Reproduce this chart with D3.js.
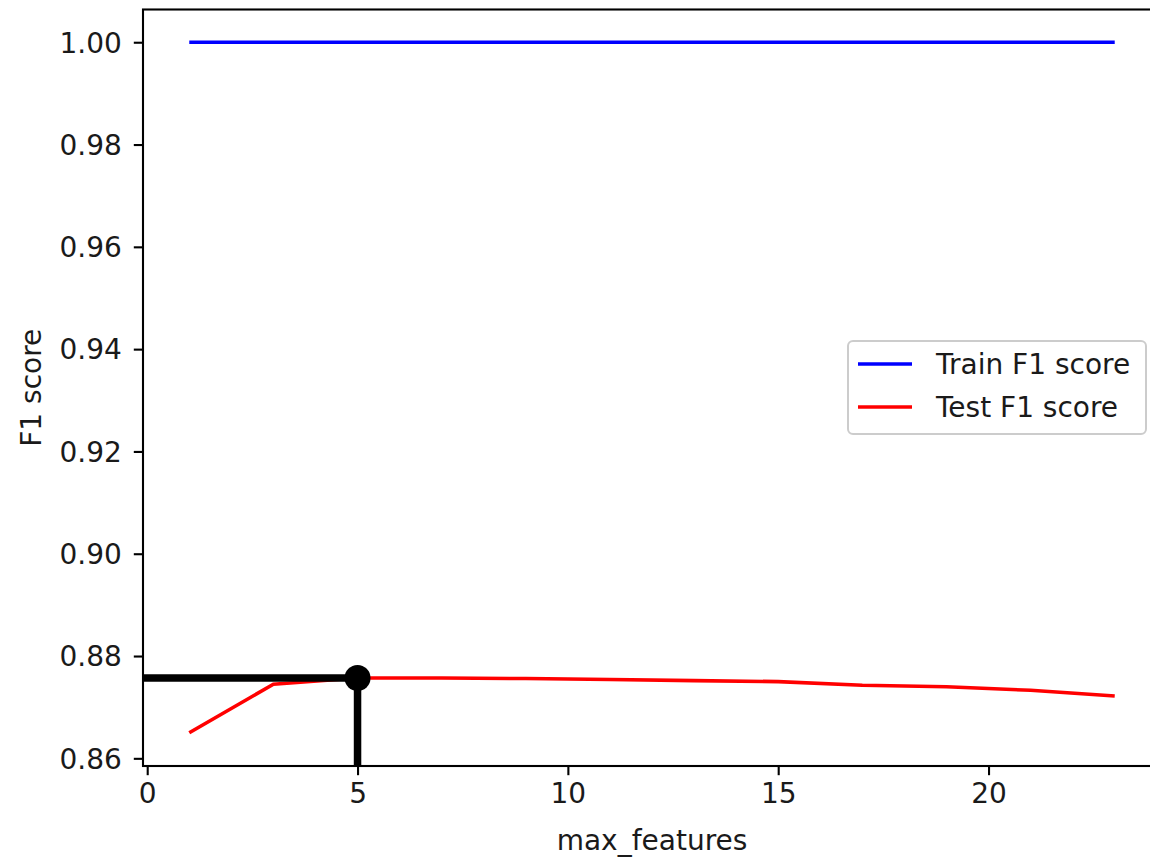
<!DOCTYPE html>
<html>
<head>
<meta charset="utf-8">
<script src="https://cdn.jsdelivr.net/npm/d3@7"></script>
<style>
  body { margin: 0; background: #fff; }
  svg { display: block; font-family: "DejaVu Sans", sans-serif; }
</style>
</head>
<body>
<svg id="chart" width="1150" height="857"></svg>
<script>
// data
const maxFeatures = [1, 3, 5, 7, 9, 11, 13, 15, 17, 19, 21, 23];
const trainF1 = [1, 1, 1, 1, 1, 1, 1, 1, 1, 1, 1, 1];
const testF1 = [0.8650, 0.8745, 0.8757, 0.8757, 0.8756, 0.8754, 0.8752, 0.8750, 0.8743, 0.8740, 0.8733, 0.8722];
const bestX = 5;
const bestY = 0.8757;
const xTicks = [0, 5, 10, 15, 20];
const yTicks = [0.86, 0.88, 0.90, 0.92, 0.94, 0.96, 0.98, 1.00];
const seriesNames = ["Train F1 score", "Test F1 score"];
const seriesColors = ["#0000ff", "#ff0000"];

const fontSize = 28;
const textColor = "#1a1a1a";
const box = { left: 143, top: 9.5, right: 1161, bottom: 766 };

const svg = d3.select("#chart");

const x = d3.scaleLinear().domain([-0.1, 24.1]).range([box.left, box.right]);
const y = d3.scaleLinear().domain([0.8585, 1.0064]).range([box.bottom, box.top]);

// clip for plotting area
svg.append("defs").append("clipPath").attr("id", "plotclip")
  .append("rect")
  .attr("x", box.left).attr("y", box.top)
  .attr("width", box.right - box.left).attr("height", box.bottom - box.top);

const plot = svg.append("g").attr("clip-path", "url(#plotclip)");

const line = d3.line().x(d => x(d[0])).y(d => y(d[1]));

plot.append("path")
  .datum(maxFeatures.map((m, i) => [m, trainF1[i]]))
  .attr("d", line)
  .attr("fill", "none")
  .attr("stroke", seriesColors[0])
  .attr("stroke-width", 3.6);

plot.append("path")
  .datum(maxFeatures.map((m, i) => [m, testF1[i]]))
  .attr("d", line)
  .attr("fill", "none")
  .attr("stroke", seriesColors[1])
  .attr("stroke-width", 3.6);

// best point marker lines
plot.append("line")
  .attr("x1", x(x.domain()[0])).attr("x2", x(bestX))
  .attr("y1", y(bestY)).attr("y2", y(bestY))
  .attr("stroke", "#000").attr("stroke-width", 7.5);

plot.append("line")
  .attr("x1", x(bestX)).attr("x2", x(bestX))
  .attr("y1", y(y.domain()[0])).attr("y2", y(bestY))
  .attr("stroke", "#000").attr("stroke-width", 7.5);

plot.append("circle")
  .attr("cx", x(bestX)).attr("cy", y(bestY))
  .attr("r", 13)
  .attr("fill", "#000");

// axes
const xAxis = d3.axisBottom(x).tickValues(xTicks).tickSize(9.2).tickPadding(8).tickFormat(d3.format("d"));
const yAxis = d3.axisLeft(y).tickValues(yTicks).tickSize(9.2).tickPadding(12).tickFormat(d3.format(".2f"));

const gx = svg.append("g").attr("transform", `translate(0,${box.bottom})`).call(xAxis);
const gy = svg.append("g").attr("transform", `translate(${box.left},0)`).call(yAxis);

[gx, gy].forEach(g => {
  g.select(".domain").remove();
  g.selectAll(".tick line").attr("stroke", "#000").attr("stroke-width", 2.1);
  g.selectAll(".tick text")
    .attr("fill", textColor)
    .style("font-size", fontSize + "px")
    .style("font-family", "DejaVu Sans");
});
gy.selectAll(".tick text").attr("dy", "0.35em");

// frame
svg.append("rect")
  .attr("x", box.left).attr("y", box.top)
  .attr("width", box.right - box.left).attr("height", box.bottom - box.top)
  .attr("fill", "none")
  .attr("stroke", "#000")
  .attr("stroke-width", 2.1);

// axis labels
svg.append("text")
  .attr("x", (box.left + box.right) / 2)
  .attr("y", 850)
  .attr("text-anchor", "middle")
  .attr("fill", textColor)
  .style("font-size", fontSize + "px")
  .text("max_features");

svg.append("text")
  .attr("transform", `translate(41,${(box.top + box.bottom) / 2}) rotate(-90)`)
  .attr("text-anchor", "middle")
  .attr("fill", textColor)
  .style("font-size", fontSize + "px")
  .text("F1 score");

// legend
const legend = svg.append("g");
legend.append("rect")
  .attr("x", 848).attr("y", 341)
  .attr("width", 298).attr("height", 93)
  .attr("rx", 5).attr("ry", 5)
  .attr("fill", "#fff").attr("fill-opacity", 0.8)
  .attr("stroke", "#cccccc").attr("stroke-width", 2);

const items = legend.selectAll(".item")
  .data(seriesNames)
  .join("g")
  .attr("class", "item")
  .attr("transform", (d, i) => `translate(0,${364 + i * 43})`);

items.append("line")
  .attr("x1", 858).attr("x2", 912)
  .attr("stroke", (d, i) => seriesColors[i])
  .attr("stroke-width", 3.6);

items.append("text")
  .attr("x", 936)
  .attr("dy", "0.35em")
  .style("font-size", fontSize + "px")
  .attr("fill", textColor)
  .text(d => d);
</script>
</body>
</html>
